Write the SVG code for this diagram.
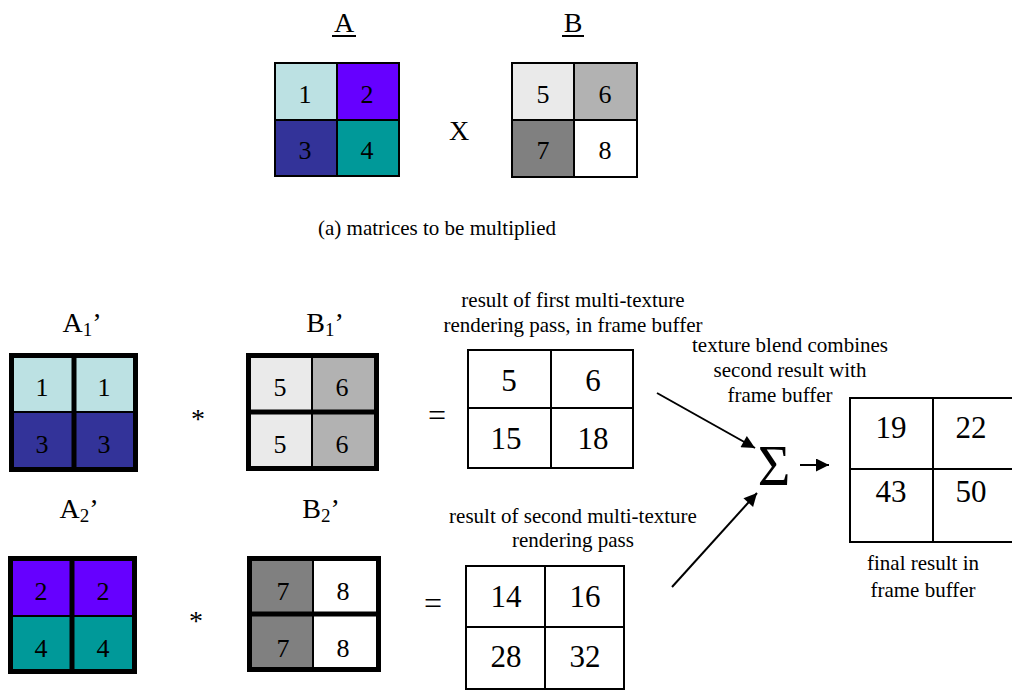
<svg xmlns="http://www.w3.org/2000/svg" width="1012" height="691" viewBox="0 0 1012 691">
<defs>
<style>
text{font-family:"Liberation Serif","Times New Roman",serif;fill:#000;text-anchor:middle}
.d{font-size:26px}
.h{font-size:28px}
.r{font-size:31px}
.lb{font-size:21px}
.cell{stroke:#000;stroke-width:2}
.thin{stroke:#000;stroke-width:2;fill:none}
.thick{stroke:#000;stroke-width:5;fill:none}
.conn{stroke:#000;stroke-width:2;fill:none}
.c1{fill:#BCE1E3}.c2{fill:#6600FF}.c3{fill:#333399}.c4{fill:#009999}
.c5{fill:#EAEAEA}.c6{fill:#B2B2B2}.c7{fill:#808080}.c8{fill:#FFFFFF}
</style>
<marker id="ah" viewBox="0 0 10 10" refX="10" refY="5" markerWidth="8" markerHeight="6.5" markerUnits="strokeWidth" orient="auto">
<path d="M0,0 L10,5 L0,10 z" fill="#000"/>
</marker>
</defs>
<rect width="1012" height="691" fill="#fff"/>

<g id="matrixA">
<text x="344" y="32" style="font-size:28px">A</text>
<line x1="332" y1="36" x2="356" y2="36" stroke="#000" stroke-width="2"/>
<rect class="c1 cell" x="275" y="63" width="62" height="57"/>
<rect class="c2 cell" x="337" y="63" width="62" height="57"/>
<rect class="c3 cell" x="275" y="120" width="62" height="56"/>
<rect class="c4 cell" x="337" y="120" width="62" height="56"/>
<text class="d" x="305" y="103">1</text><text class="d" x="367" y="103">2</text>
<text class="d" x="305" y="159">3</text><text class="d" x="367" y="159">4</text>
</g>

<text x="459" y="140" class="h">X</text>

<g id="matrixB">
<text x="573" y="32" style="font-size:28px">B</text>
<line x1="562" y1="36" x2="584" y2="36" stroke="#000" stroke-width="2"/>
<rect class="c5 cell" x="512" y="63" width="62" height="57"/>
<rect class="c6 cell" x="574" y="63" width="63" height="57"/>
<rect class="c7 cell" x="512" y="120" width="62" height="57"/>
<rect class="c8 cell" x="574" y="120" width="63" height="57"/>
<text class="d" x="543" y="103">5</text><text class="d" x="605" y="103">6</text>
<text class="d" x="543" y="159">7</text><text class="d" x="605" y="159">8</text>
</g>

<text x="437" y="235" class="lb">(a) matrices to be multiplied</text>

<g id="A1p">
<text x="82" y="332" class="h">A<tspan style="font-size:19px" dy="4">1</tspan><tspan dy="-4">’</tspan></text>
<rect class="c1" x="11" y="355" width="63" height="57"/>
<rect class="c1" x="74" y="355" width="62" height="57"/>
<rect class="c3" x="11" y="412" width="63" height="58"/>
<rect class="c3" x="74" y="412" width="62" height="58"/>
<line class="thin" x1="11" y1="412" x2="136" y2="412"/>
<line class="thick" x1="74" y1="355" x2="74" y2="472"/>
<rect class="thick" x="11.5" y="355.5" width="124" height="114"/>
<text class="d" x="42" y="396">1</text><text class="d" x="104" y="396">1</text>
<text class="d" x="42" y="453">3</text><text class="d" x="104" y="453">3</text>
</g>

<text x="198" y="428" class="h">*</text>

<g id="B1p">
<text x="325" y="332" class="h">B<tspan style="font-size:19px" dy="4">1</tspan><tspan dy="-4">’</tspan></text>
<rect class="c5" x="248" y="355" width="64" height="57"/>
<rect class="c6" x="312" y="355" width="65" height="57"/>
<rect class="c5" x="248" y="412" width="64" height="57"/>
<rect class="c6" x="312" y="412" width="65" height="57"/>
<line class="thin" x1="312" y1="355" x2="312" y2="469"/>
<line class="thick" x1="246" y1="412" x2="379" y2="412"/>
<rect class="thick" x="248.5" y="355.5" width="128" height="113"/>
<text class="d" x="280" y="396">5</text><text class="d" x="342" y="396">6</text>
<text class="d" x="280" y="453">5</text><text class="d" x="342" y="453">6</text>
</g>

<text x="437" y="426" style="font-size:32px">=</text>

<g id="R1">
<text x="573" y="307" class="lb">result of first multi-texture</text>
<text x="573" y="332" class="lb">rendering pass, in frame buffer</text>
<rect class="cell" fill="#fff" x="468" y="350" width="83" height="58"/>
<rect class="cell" fill="#fff" x="551" y="350" width="82" height="58"/>
<rect class="cell" fill="#fff" x="468" y="408" width="83" height="60"/>
<rect class="cell" fill="#fff" x="551" y="408" width="82" height="60"/>
<text class="r" x="509" y="391">5</text><text class="r" x="593" y="391">6</text>
<text class="r" x="506" y="449">15</text><text class="r" x="593" y="449">18</text>
</g>

<g id="A2p">
<text x="79" y="518" class="h">A<tspan style="font-size:19px" dy="4">2</tspan><tspan dy="-4">’</tspan></text>
<rect class="c2" x="10" y="558" width="62" height="58"/>
<rect class="c2" x="72" y="558" width="63" height="58"/>
<rect class="c4" x="10" y="616" width="62" height="56"/>
<rect class="c4" x="72" y="616" width="63" height="56"/>
<line class="thin" x1="10" y1="616" x2="135" y2="616"/>
<line class="thick" x1="72" y1="558" x2="72" y2="674"/>
<rect class="thick" x="10.5" y="558.5" width="124" height="113"/>
<text class="d" x="41" y="600">2</text><text class="d" x="103" y="600">2</text>
<text class="d" x="41" y="657">4</text><text class="d" x="103" y="657">4</text>
</g>

<text x="196" y="630" class="h">*</text>

<g id="B2p">
<text x="321" y="518" class="h">B<tspan style="font-size:19px" dy="4">2</tspan><tspan dy="-4">’</tspan></text>
<rect class="c7" x="249" y="558" width="64" height="56"/>
<rect class="c8" x="313" y="558" width="66" height="56"/>
<rect class="c7" x="249" y="614" width="64" height="56"/>
<rect class="c8" x="313" y="614" width="66" height="56"/>
<line class="thin" x1="313" y1="558" x2="313" y2="670"/>
<line class="thick" x1="247" y1="614" x2="381" y2="614"/>
<rect class="thick" x="249.5" y="558.5" width="129" height="111"/>
<text class="d" x="283" y="600">7</text><text class="d" x="343" y="600">8</text>
<text class="d" x="283" y="657">7</text><text class="d" x="343" y="657">8</text>
</g>

<text x="433" y="614" style="font-size:32px">=</text>

<g id="R2">
<text x="573" y="523" class="lb">result of second multi-texture</text>
<text x="573" y="547" class="lb">rendering pass</text>
<rect class="cell" fill="#fff" x="466" y="566" width="79" height="61"/>
<rect class="cell" fill="#fff" x="545" y="566" width="79" height="61"/>
<rect class="cell" fill="#fff" x="466" y="627" width="79" height="62"/>
<rect class="cell" fill="#fff" x="545" y="627" width="79" height="62"/>
<text class="r" x="506" y="607">14</text><text class="r" x="585" y="607">16</text>
<text class="r" x="506" y="667">28</text><text class="r" x="585" y="667">32</text>
</g>

<g id="sum">
<text x="790" y="352" class="lb">texture blend combines</text>
<text x="790" y="377" class="lb">second result with</text>
<text x="780" y="402" class="lb">frame buffer</text>
<text x="774" y="485" style="font-size:56px">Σ</text>
</g>

<g id="final">
<rect class="cell" fill="#fff" x="850" y="398" width="83" height="71"/>
<rect class="cell" fill="#fff" x="933" y="398" width="84" height="71"/>
<rect class="cell" fill="#fff" x="850" y="469" width="83" height="73"/>
<rect class="cell" fill="#fff" x="933" y="469" width="84" height="73"/>
<text class="r" x="891" y="438">19</text><text class="r" x="971" y="438">22</text>
<text class="r" x="891" y="502">43</text><text class="r" x="971" y="502">50</text>
<text x="923" y="570" class="lb">final result in</text>
<text x="923" y="597" class="lb">frame buffer</text>
</g>

<g id="connectors">
<line class="conn" x1="657" y1="393" x2="755" y2="448" marker-end="url(#ah)"/>
<line class="conn" x1="672" y1="587" x2="757" y2="493" marker-end="url(#ah)"/>
<line class="conn" x1="800" y1="465" x2="829" y2="465" marker-end="url(#ah)"/>
</g>
</svg>
